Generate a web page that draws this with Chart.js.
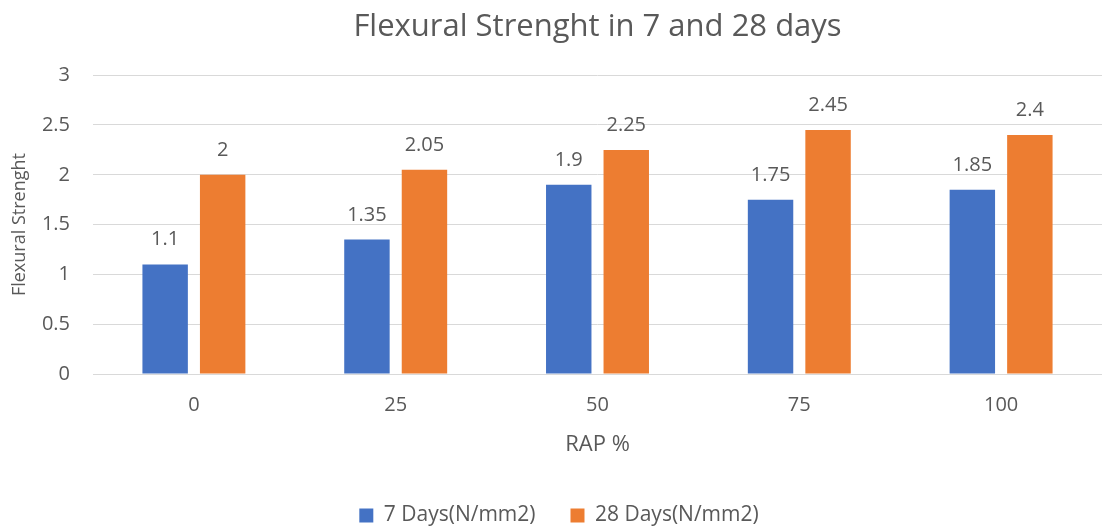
<!DOCTYPE html>
<html lang="en">
<head>
  <meta charset="UTF-8">
  <title>Flexural Strenght in 7 and 28 days</title>
  <script src="https://cdn.jsdelivr.net/npm/chart.js"></script>
  <style>
    html, body { margin: 0; padding: 0; background: #fff; }
    #wrap { width: 1102px; height: 529px; }
  </style>
</head>
<body>
  <div id="wrap">
    <canvas id="flexChart" width="1102" height="529"></canvas>
  </div>

  <script>
    const categories = ['0', '25', '50', '75', '100'];
    const days7 = [1.1, 1.35, 1.9, 1.75, 1.85];
    const days28 = [2, 2.05, 2.25, 2.45, 2.4];
    const seriesNames = ['7 Days(N/mm2)', '28 Days(N/mm2)'];

    const textColor = '#595959';
    const fontFamily = '"Open Sans", "Noto Sans", sans-serif';

    // draws the value above each bar
    const valueLabels = {
      id: 'valueLabels',
      afterDatasetsDraw(chart) {
        const ctx = chart.ctx;
        ctx.save();
        ctx.font = '20px ' + fontFamily;
        ctx.fillStyle = textColor;
        ctx.textAlign = 'center';
        ctx.textBaseline = 'alphabetic';
        chart.data.datasets.forEach((ds, i) => {
          chart.getDatasetMeta(i).data.forEach((bar, j) => {
            ctx.fillText(String(ds.data[j]), bar.x, bar.y - 19);
          });
        });
        ctx.restore();
      }
    };

    const ctx = document.getElementById('flexChart').getContext('2d');
    new Chart(ctx, {
      type: 'bar',
      data: {
        labels: categories,
        datasets: [{
          label: seriesNames[0],
          data: days7,
          backgroundColor: '#4472c4',
          categoryPercentage: 0.57,
          barPercentage: 0.79
        }, {
          label: seriesNames[1],
          data: days28,
          backgroundColor: '#ed7d31',
          categoryPercentage: 0.57,
          barPercentage: 0.79
        }]
      },
      options: {
        responsive: false,
        animation: false,
        // the source picture is cropped a little on the right and bottom
        layout: { padding: { left: 0, right: -16, top: 9, bottom: -7 } },
        plugins: {
          title: {
            display: true,
            fullSize: false,
            text: 'Flexural Strenght in 7 and 28 days',
            color: textColor,
            font: { family: fontFamily, size: 31, weight: 'normal' },
            padding: { top: 0, bottom: 29 }
          },
          legend: {
            position: 'bottom',
            labels: {
              color: textColor,
              font: { family: fontFamily, size: 21 },
              boxWidth: 14,
              boxHeight: 14,
              padding: 35
            }
          },
          tooltip: { enabled: false }
        },
        scales: {
          x: {
            grid: { display: false },
            border: { display: true, color: '#d9d9d9' },
            ticks: { color: textColor, font: { family: fontFamily, size: 20 }, padding: 11 },
            title: {
              display: true,
              text: 'RAP %',
              color: textColor,
              font: { family: fontFamily, size: 22 },
              padding: { top: 20, bottom: 12 }
            },
            afterFit(scale) { scale.height = 96; }
          },
          y: {
            min: 0,
            max: 3,
            ticks: {
              stepSize: 0.5,
              color: textColor,
              font: { family: fontFamily, size: 20 },
              padding: 23,
              callback: (v) => String(v)
            },
            grid: { color: '#d9d9d9', drawTicks: false },
            border: { display: false },
            title: {
              display: true,
              text: 'Flexural Strenght',
              color: textColor,
              font: { family: fontFamily, size: 18 },
              padding: { top: 9, bottom: 4 }
            },
            afterFit(scale) { scale.width = 93; }
          }
        }
      },
      plugins: [valueLabels]
    });
  </script>
</body>
</html>
